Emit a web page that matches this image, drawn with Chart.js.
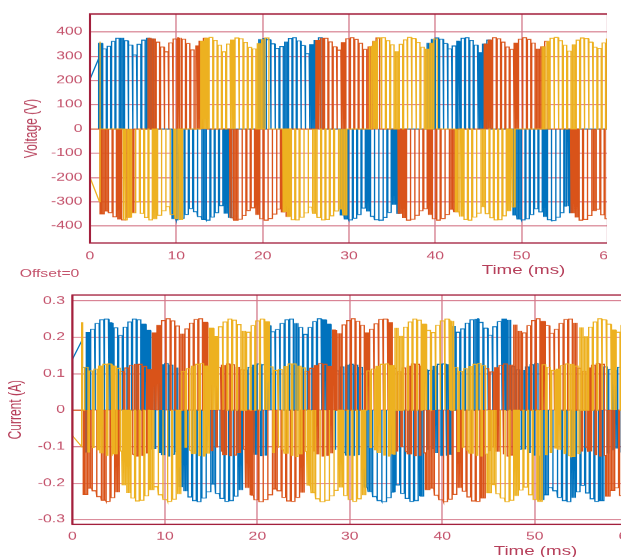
<!DOCTYPE html>
<html>
<head>
<meta charset="utf-8">
<script src="https://cdn.jsdelivr.net/npm/chart.js@4.4.0/dist/chart.umd.min.js"></script>
<style>
    html, body { margin: 0; padding: 0; background: #fff; overflow: hidden; }
    body { width: 621px; height: 557px; position: relative; font-family: "Liberation Sans", Arial, sans-serif; }
    .clip { position: absolute; left: 0; overflow: hidden; }
    .stretch { position: absolute; left: 0; top: 0; transform: scaleX(1.5); transform-origin: 0 0; }
    .stretch canvas { display: block; }
    .lbl { position: absolute; white-space: nowrap; transform: translate(-50%, -50%); color: #b63f5a; }
</style>
</head>
<body>
<div class="clip" style="top:0;width:607px;height:280px;">
    <div class="stretch">
        <canvas id="voltage-chart" style="width:420px;height:280px;"></canvas>
        <span class="lbl" style="left:349px;top:270px;font-size:12.5px;">Time (ms)</span>
        <span class="lbl" style="left:33px;top:273px;font-size:10.5px;color:#c4536c;">Offset=0</span>
    </div>
</div>
<div class="clip" style="top:280px;width:621px;height:277px;">
    <div class="stretch">
        <canvas id="current-chart" style="width:430px;height:277px;"></canvas>
        <span class="lbl" style="left:357px;top:271px;font-size:12.5px;">Time (ms)</span>
    </div>
</div>
<script>
// Time axis
const timeTicks = [0, 10, 20, 30, 40, 50, 60];
const SLOT_MS = 0.5; // one pattern character = 0.5 ms of PWM

// Phase colours (blue, orange, yellow)
const phaseNames = ['A', 'B', 'C'];
const phaseColors = ['#0072BD', '#D95319', '#EDB120'];

// --- Voltage panel ---------------------------------------------------
// envelope of the pulse tops, one value per 0.5 ms slot (V)
const vTop = [
    376,369,353,330,341,361,374,376,364,346,305,349,366,376,373,358,338,318,355,371,
    376,370,352,326,342,362,374,377,365,345,318,350,366,375,372,357,336,330,354,370,
    375,368,351,332,340,360,373,376,363,344,310,348,365,376,374,359,339,325,356,372,
    376,369,353,328,341,361,375,376,364,347,320,349,367,377,373,357,337,331,355,371,
    375,370,352,330,342,362,374,376,365,346,315,350,366,376,372,358,338,328,354,370,
    376,369,354,331,341,361,374,377,364,345,321,349,366,375,373,358,337,332,355,371
];
const vBot = [
    -370,-362,-350,-338,-345,-362,-373,-375,-364,-346,-300,-348,-365,-375,-372,-356,-337,-320,-353,-369,
    -375,-368,-352,-328,-341,-361,-373,-376,-363,-345,-316,-349,-366,-376,-372,-357,-336,-325,-354,-370,
    -376,-369,-351,-330,-342,-362,-374,-375,-364,-346,-322,-348,-365,-375,-373,-358,-338,-330,-355,-371,
    -375,-368,-353,-326,-340,-360,-374,-376,-365,-344,-312,-350,-367,-376,-372,-356,-337,-329,-354,-370,
    -376,-369,-352,-331,-341,-361,-373,-376,-363,-347,-320,-349,-366,-375,-374,-358,-339,-322,-355,-371,
    -375,-370,-353,-329,-342,-362,-374,-377,-364,-345,-318,-348,-365,-376,-373,-357,-336,-331,-354,-370
];
// switching pattern per phase: + / - single pulse, P / N dense pulses, 0 idle
const vPatternA = '00' + 'P++++P+++++PP' + '0000' + 'NN-----N----NN' + '000000' + 'PP++++P+++++PP+' + '0000' +
    'NN----N-----NN' + '000000' + 'PP+++++P++++PP+' + '00000' + 'NN-----N----NN' + '00000000';
const vPatternB = '00' + 'NN--N-NN' + '000' + 'PP+++++P+++PP+' + '00000' + 'NN----N-----NN' + '000000' +
    'PP++++P+++++PP+' + '0000' + 'NN-----N----NN' + '000000' + 'PP+++++P++++PP+' + '00000' + 'NN---N---';
const vPatternC = '00' + '00000' + 'NN-----N----NN' + '0000' + 'PP+++++P+++++PP+' + '000' + 'NN-----N-----NN' +
    '00000' + 'PP++++P++++++PP+' + '0000' + 'NN----N-----NN' + '000000' + 'PP+++++P++++++++';
// start-up transient before the PWM begins [time ms, V]
const vStartA = [[0, 0], [0, 205], [1, 290], [1, 0]];
const vStartB = [[0, 0]];
const vStartC = [[0, 0], [0, -200], [1.1, -300], [1.1, 360], [1.2, 360], [1.2, 0]];
const vTicks = [-400, -300, -200, -100, 0, 100, 200, 300, 400];

// --- Current panel ---------------------------------------------------
const iTop = [
    .250,.244,.232,.213,.222,.238,.248,.250,.240,.226,.205,.228,.242,.250,.248,.236,.219,.212,.233,.246,
    .251,.245,.231,.210,.223,.239,.249,.251,.241,.225,.202,.229,.242,.250,.247,.235,.218,.214,.232,.245,
    .250,.243,.232,.215,.221,.238,.248,.250,.239,.227,.208,.227,.243,.251,.248,.236,.220,.211,.234,.246,
    .251,.244,.233,.212,.222,.237,.249,.250,.240,.226,.204,.228,.242,.250,.247,.236,.219,.213,.233,.245,
    .250,.245,.231,.214,.223,.239,.248,.251,.241,.225,.206,.229,.243,.250,.248,.235,.218,.212,.232,.246,
    .251,.244,.232,.211,.222,.238,.249,.250,.240,.227,.203,.228,.242,.251,.248,.236,.220,.214,.233,.245
];
const iBot = [
    -.248,-.243,-.231,-.214,-.221,-.237,-.247,-.250,-.240,-.225,-.206,-.227,-.241,-.249,-.247,-.235,-.218,-.210,-.232,-.245,
    -.250,-.244,-.230,-.211,-.222,-.238,-.248,-.251,-.241,-.224,-.203,-.228,-.242,-.250,-.248,-.236,-.219,-.213,-.233,-.246,
    -.251,-.245,-.232,-.216,-.221,-.239,-.249,-.250,-.239,-.226,-.207,-.226,-.243,-.251,-.247,-.235,-.220,-.212,-.234,-.245,
    -.250,-.243,-.233,-.212,-.223,-.237,-.248,-.251,-.240,-.225,-.205,-.228,-.242,-.250,-.248,-.236,-.218,-.214,-.233,-.246,
    -.251,-.244,-.231,-.213,-.222,-.238,-.249,-.250,-.241,-.226,-.204,-.229,-.241,-.251,-.247,-.235,-.219,-.211,-.232,-.245,
    -.250,-.245,-.232,-.212,-.221,-.239,-.248,-.251,-.240,-.224,-.206,-.227,-.243,-.250,-.248,-.236,-.220,-.213,-.234,-.246
];
const iMidTop = [
    .127,.125,.118,.108,.113,.121,.126,.127,.122,.115,.106,.116,.123,.127,.126,.120,.112,.109,.119,.125,
    .128,.124,.117,.107,.114,.122,.126,.128,.121,.114,.105,.117,.124,.127,.125,.119,.111,.110,.118,.124,
    .127,.125,.119,.109,.112,.121,.127,.127,.122,.116,.107,.115,.123,.128,.126,.120,.113,.108,.119,.125,
    .126,.124,.118,.108,.113,.120,.126,.127,.123,.115,.106,.116,.122,.127,.126,.121,.112,.109,.120,.126,
    .127,.125,.117,.107,.114,.121,.126,.128,.122,.114,.105,.117,.123,.127,.125,.120,.111,.110,.119,.125,
    .128,.125,.118,.109,.113,.122,.127,.127,.121,.115,.107,.116,.124,.128,.126,.119,.112,.109,.118,.124
];
const iMidBot = [
    -.125,-.122,-.115,-.103,-.109,-.118,-.124,-.126,-.120,-.112,-.100,-.113,-.121,-.126,-.124,-.117,-.108,-.105,-.116,-.123,
    -.126,-.121,-.114,-.102,-.110,-.119,-.125,-.126,-.119,-.111,-.101,-.114,-.122,-.125,-.123,-.116,-.107,-.106,-.115,-.122,
    -.125,-.123,-.116,-.104,-.108,-.118,-.124,-.127,-.120,-.113,-.102,-.112,-.121,-.126,-.124,-.118,-.109,-.104,-.116,-.123,
    -.124,-.122,-.115,-.103,-.109,-.117,-.123,-.126,-.121,-.112,-.100,-.113,-.120,-.125,-.124,-.117,-.108,-.105,-.117,-.124,
    -.125,-.121,-.114,-.102,-.110,-.118,-.124,-.126,-.120,-.111,-.101,-.114,-.121,-.126,-.123,-.116,-.107,-.106,-.116,-.123,
    -.126,-.122,-.116,-.104,-.109,-.119,-.125,-.127,-.119,-.112,-.102,-.113,-.122,-.126,-.124,-.117,-.109,-.105,-.115,-.122
];
// A / a = pulse to +hi / -hi, H / h dense, m / M = swing between the mid levels, 0 idle
const iPatternA = '00' + 'm' + 'HAAAAHAAAAAAHH' + 'mmMmmM' + 'hhaaaaahaaaaah' + 'mmMmm' + 'HAAAAAHAAAAAHH' +
    'mmmMmmm' + 'hhaaaahaaaaah' + 'mmMmmM' + 'HAAAAHAAAAAHH' + 'mmMmmm' + 'hhaaaaahaaaaah' + 'mmMmm';
const iPatternB = '00' + 'hhaahaah' + 'mmmMmmM' + 'HHAAAAHAAAAH' + 'mmmMmmMm' + 'hhaaaahaaaaah' + 'mmMmmM' +
    'HHAAAAAHAAAAH' + 'mmmMmmm' + 'hhaaaaahaaaah' + 'mmMmmM' + 'HHAAAAHAAAAAAH' + 'mmMmmm' + 'hhaaa';
const iPatternC = '00' + 'mmmMmmMm' + 'hhaaaahaaaaah' + 'mmMmmM' + 'HHAAAAAHAAAAH' + 'mmmMmmMm' + 'hhaaaaahaaaah' +
    'mmMmmM' + 'HHAAAAHAAAAAH' + 'mmmMmmm' + 'hhaaaahaaaah' + 'mmmMmmMm' + 'HHAAAAAHAAA';
const iStartA = [[0, 0], [0, 0.14], [1, 0.19], [1, 0]];
const iStartB = [[0, 0]];
const iStartC = [[0, 0], [0, -0.07], [1, -0.1], [1, 0.24], [1.1, 0.24], [1.1, 0]];
const iTicks = [-0.3, -0.2, -0.1, 0, 0.1, 0.2, 0.3];

// small carrier offset per phase so the pulse trains interleave
const phaseShift = [0, 0.17, 0.33];

// n = pulses per slot, duty = share of each pulse spent at the "on" level
const vLevels = {
    '+': { on: vTop, n: 1, duty: 0.78 }, 'P': { on: vTop, n: 3, duty: 0.5 },
    '-': { on: vBot, n: 1, duty: 0.78 }, 'N': { on: vBot, n: 3, duty: 0.5 }
};
const iLevels = {
    'A': { on: iTop, n: 1, duty: 0.78 }, 'H': { on: iTop, n: 3, duty: 0.5 },
    'a': { on: iBot, n: 1, duty: 0.78 }, 'h': { on: iBot, n: 3, duty: 0.5 },
    'm': { on: iMidTop, off: iMidBot, n: 1, duty: 0.7 }, 'M': { on: iMidTop, off: iMidBot, n: 3, duty: 0.5 }
};

// turn a pattern string into the points of a pulse train
function pulseTrain(pattern, levels, shift, start) {
    const pts = start.map(([x, y]) => ({ x, y }));
    let last = start[start.length - 1][1];
    for (let k = 0; k < pattern.length; k++) {
        const lv = levels[pattern[k]];
        if (!lv) continue;
        const on = lv.on[k];
        const off = lv.off ? lv.off[k] : 0;
        const w = SLOT_MS / lv.n;
        for (let j = 0; j < lv.n; j++) {
            const a = k * SLOT_MS + shift + j * w;
            const b = a + w * lv.duty;
            pts.push({ x: a, y: last }, { x: a, y: on }, { x: b, y: on }, { x: b, y: off });
            last = off;
        }
    }
    pts.push({ x: timeTicks[timeTicks.length - 1], y: last });
    return pts;
}

const framePlugin = {
    id: 'frame',
    afterDraw(chart) {
        const { ctx, chartArea: a } = chart;
        ctx.save();
        ctx.strokeStyle = '#a3203d';
        ctx.lineWidth = 1.4;
        ctx.strokeRect(a.left, a.top, a.right - a.left, a.bottom - a.top);
        ctx.restore();
    }
};

const tickFont = { family: '"Liberation Sans", Arial, sans-serif', size: 10.5 };
const tickColor = '#c4536c';

function makeChart(id, cfg) {
    const datasets = cfg.patterns.map((p, i) => ({
        label: phaseNames[i],
        data: pulseTrain(p, cfg.levels, phaseShift[i], cfg.starts[i]),
        borderColor: phaseColors[i],
        borderWidth: 0.9,
        pointRadius: 0,
        tension: 0,
        fill: false,
        order: 3 - i
    }));
    return new Chart(document.getElementById(id), {
        type: 'line',
        data: { datasets },
        plugins: [framePlugin],
        options: {
            responsive: false,
            animation: false,
            devicePixelRatio: 1.5,
            parsing: false,
            normalized: true,
            layout: { padding: { top: cfg.padTop, right: cfg.padRight, left: 0, bottom: 0 } },
            plugins: { legend: { display: false }, tooltip: { enabled: false } },
            scales: {
                x: {
                    type: 'linear',
                    min: timeTicks[0],
                    max: timeTicks[timeTicks.length - 1],
                    afterBuildTicks: s => { s.ticks = timeTicks.map(v => ({ value: v })); },
                    afterFit: s => { s.height = cfg.xHeight; },
                    ticks: { color: tickColor, font: tickFont, padding: cfg.xPad, maxRotation: 0, autoSkip: false },
                    grid: { color: '#e2a6b1', lineWidth: 1.3, drawTicks: false },
                    border: { display: false }
                },
                y: {
                    min: cfg.yMin,
                    max: cfg.yMax,
                    afterBuildTicks: s => { s.ticks = cfg.yTicks.map(v => ({ value: v })); },
                    afterFit: s => { s.width = cfg.yWidth; },
                    ticks: { color: tickColor, font: tickFont, padding: 5 },
                    grid: { color: '#d5788a', lineWidth: 1, drawTicks: false },
                    border: { display: false },
                    title: {
                        display: true,
                        text: cfg.yTitle,
                        color: '#b63f5a',
                        font: { family: '"Liberation Sans", Arial, sans-serif', size: 12 },
                        padding: { top: cfg.titlePad, bottom: 0 }
                    }
                }
            }
        }
    });
}

const voltageCanvas = document.getElementById('voltage-chart');
voltageCanvas.width = 420; voltageCanvas.height = 280;
const currentCanvas = document.getElementById('current-chart');
currentCanvas.width = 430; currentCanvas.height = 277;

makeChart('voltage-chart', {
    patterns: [vPatternA, vPatternB, vPatternC],
    starts: [vStartA, vStartB, vStartC],
    levels: vLevels,
    yMin: -470, yMax: 474, yTicks: vTicks,
    yTitle: 'Voltage (V)', titlePad: 14, yWidth: 60,
    padTop: 14, padRight: 14.7, xHeight: 37, xPad: 7
});

makeChart('current-chart', {
    patterns: [iPatternA, iPatternB, iPatternC],
    starts: [iStartA, iStartB, iStartC],
    levels: iLevels,
    yMin: -0.313, yMax: 0.316, yTicks: iTicks,
    yTitle: 'Current (A)', titlePad: 3.8, yWidth: 48.3,
    padTop: 15, padRight: 10.9, xHeight: 33, xPad: 6
});
</script>
</body>
</html>
